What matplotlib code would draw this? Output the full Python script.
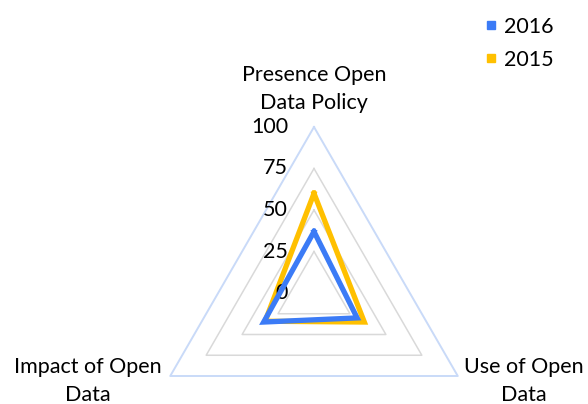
import matplotlib
matplotlib.use("Agg")
import matplotlib.pyplot as plt
import numpy as np
from matplotlib.lines import Line2D

# ---- data ----
CATEGORIES = ["Presence Open\nData Policy", "Use of Open\nData", "Impact of Open\nData"]
SERIES_2016 = [37, 30, 35]
SERIES_2015 = [60, 35, 34]
RINGS = [25, 50, 75, 100]
TICK_LABELS = ["0", "25", "50", "75", "100"]

BLUE = "#3b7bf6"
YELLOW = "#ffc000"
GRID_GRAY = "#d9d9d9"
GRID_OUTER = "#c9daf8"

plt.rcParams["font.family"] = ["Lato", "DejaVu Sans"]
FS = 15.5

W, H = 588, 404
fig = plt.figure(figsize=(W / 100, H / 100), dpi=100)

# centre at (314, 293) px from top-left, radius 166 px
cx, cy, R = 314, 293, 166
ax = fig.add_axes([(cx - R) / W, (H - cy - R) / H, 2 * R / W, 2 * R / H],
                  projection="polar")
ax.set_theta_offset(np.pi / 2)
ax.set_theta_direction(-1)
ax.set_ylim(0, 100)
ax.grid(False)
ax.spines["polar"].set_visible(False)
ax.set_xticks([])
ax.set_yticks([])
ax.patch.set_alpha(0)

n = len(CATEGORIES)
theta = np.linspace(0, 2 * np.pi, n, endpoint=False)
theta_c = np.append(theta, theta[0])


def closed(vals):
    return np.append(vals, vals[0])


for r in RINGS:
    col = GRID_OUTER if r == 100 else GRID_GRAY
    lw = 1.4 if r == 100 else 1.1
    ax.plot(theta_c, [r] * (n + 1), color=col, lw=lw, zorder=1, clip_on=False)

ax.plot(theta_c, closed(SERIES_2015), color=YELLOW, lw=3.8, zorder=3,
        solid_joinstyle="miter")
ax.plot(theta_c, closed(SERIES_2016), color=BLUE, lw=3.8, zorder=4,
        solid_joinstyle="miter")

# radial tick labels, left of the vertical axis
for val, lab in zip([0] + RINGS, TICK_LABELS):
    ax.annotate(lab, xy=(0, val), xytext=(-26, 0), textcoords="offset pixels",
                ha="right", va="center", fontsize=FS, annotation_clip=False)

# category labels
offsets = [(0, 38), (66, -5), (-82, -5)]
for th, lab, off in zip(theta, CATEGORIES, offsets):
    ax.annotate(lab, xy=(th, 100), xytext=off, textcoords="offset pixels",
                ha="center", va="center", fontsize=FS, linespacing=1.45,
                annotation_clip=False)

handles = [Line2D([], [], marker="s", ls="none", color=BLUE, markersize=6),
           Line2D([], [], marker="s", ls="none", color=YELLOW, markersize=6)]
fig.legend(handles, ["2016", "2015"], loc="upper left",
           bbox_to_anchor=(477 / W, 1 - 8 / H), frameon=False, fontsize=FS,
           handlelength=0.5, handletextpad=0.35, labelspacing=0.62,
           borderaxespad=0)

fig.savefig("out.png", dpi=100)
